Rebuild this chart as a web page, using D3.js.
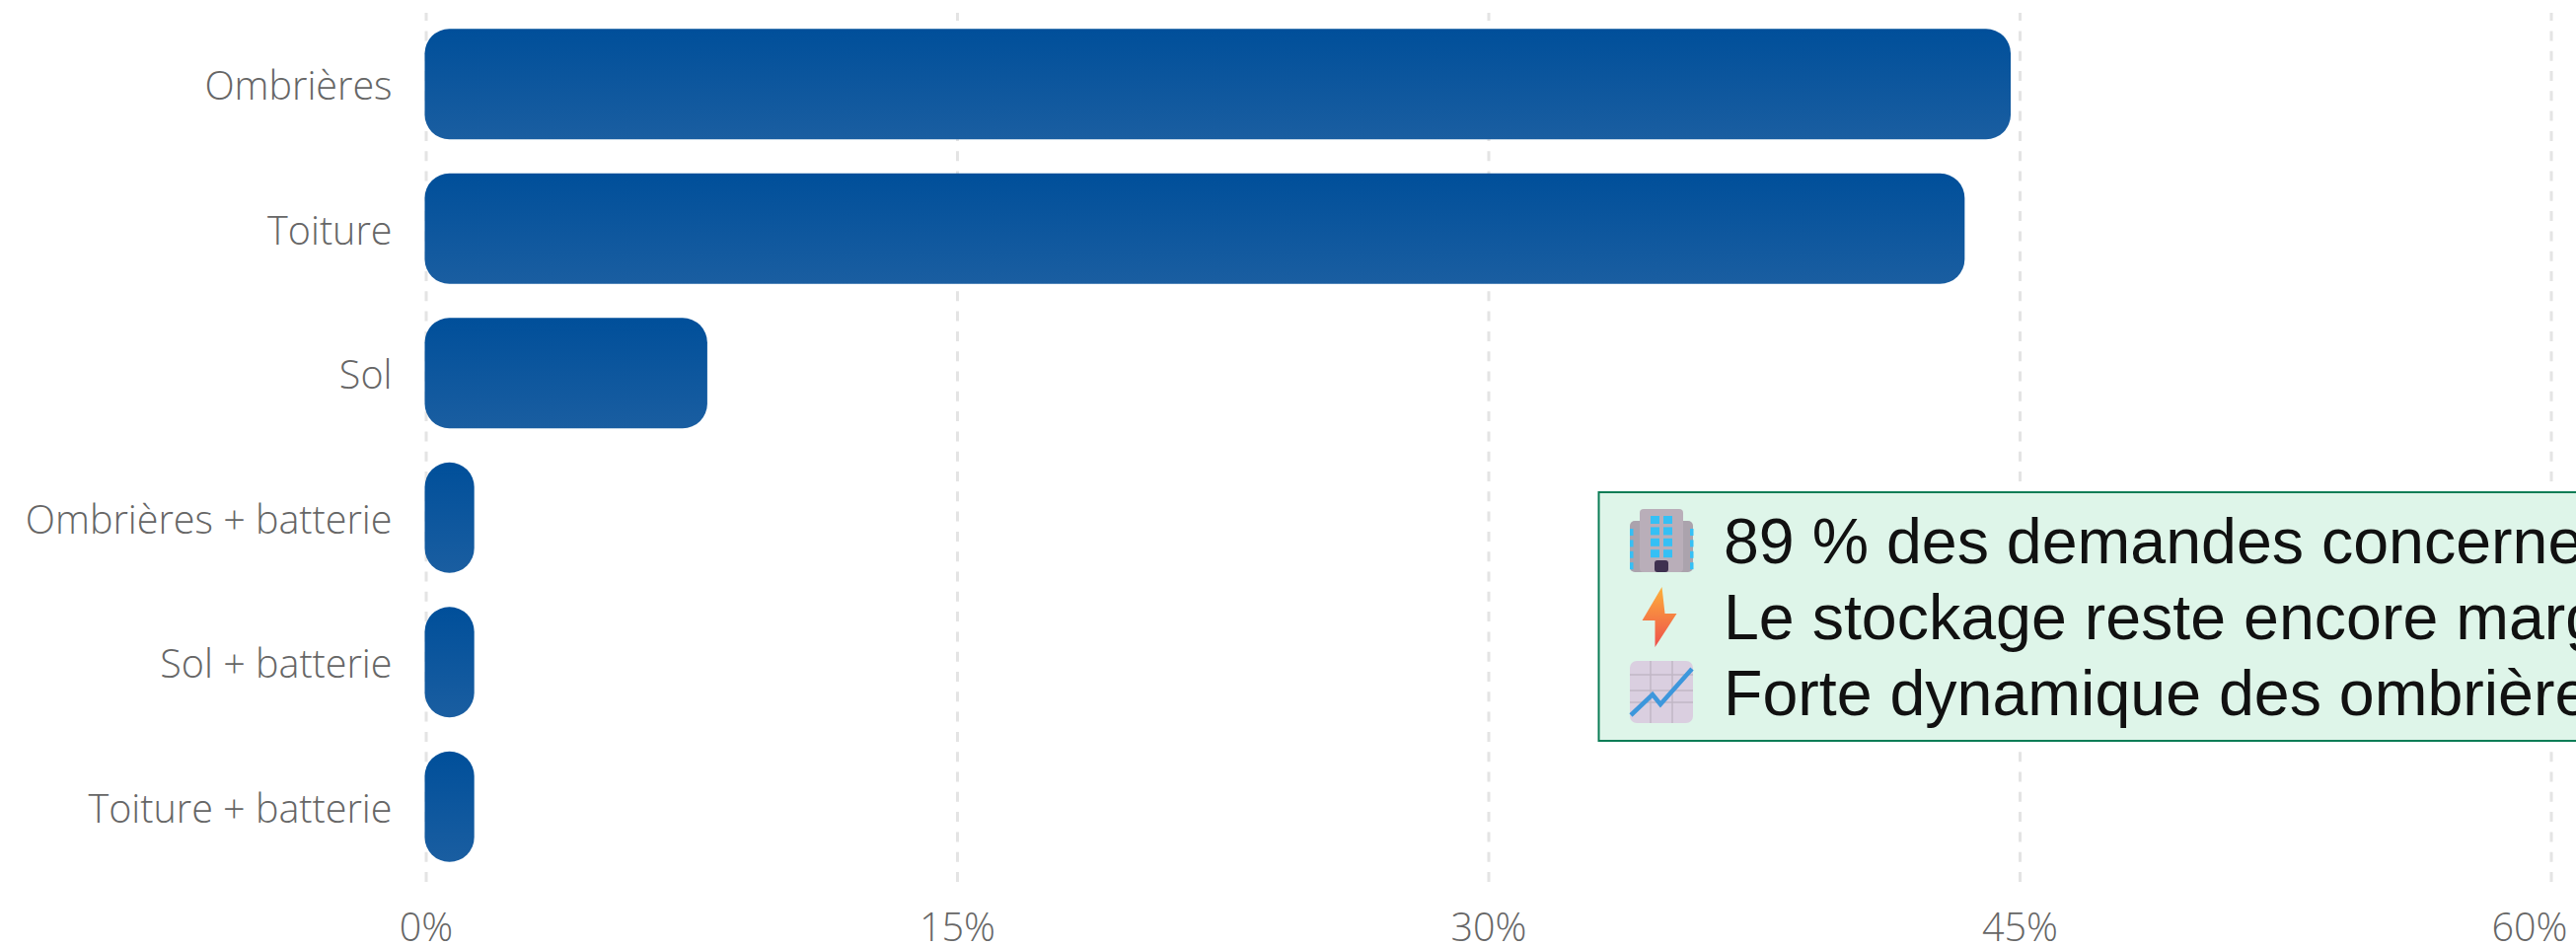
<!DOCTYPE html>
<html><head><meta charset="utf-8">
<script src="https://cdn.jsdelivr.net/npm/d3@7/dist/d3.min.js"></script>
<style>html,body{margin:0;padding:0;background:#fff;overflow:hidden}svg{display:block}</style>
</head><body><svg id="c" width="2611" height="959"></svg>
<script>
const categories = ["Ombrières","Toiture","Sol","Ombrières + batterie","Sol + batterie","Toiture + batterie"];
const shares = [44.75,43.45,7.95,1.37,1.37,1.37];
const xTicks = [0,15,30,45,60];
const notes = ["89 % des demandes concerne","Le stockage reste encore marg","Forte dynamique des ombrière"];

const svg = d3.select("#c");
const x = d3.scaleLinear().domain([0,60]).range([431.5,2585.5]);
const y = d3.scaleBand().domain(categories).range([12,891]).paddingInner(0.2355).paddingOuter(0.118);
const labelFont = "'Open Sans', Lato, sans-serif";

const defs = svg.append("defs");
const g = defs.append("linearGradient").attr("id","bar").attr("x1",0).attr("y1",0).attr("x2",0).attr("y2",1);
g.append("stop").attr("offset","0%").attr("stop-color","#004f9a");
g.append("stop").attr("offset","100%").attr("stop-color","#1a5ea1");

const xAxis = svg.append("g").attr("transform","translate(0,894)")
  .call(d3.axisBottom(x).tickValues(xTicks).tickFormat(d=>d+"%").tickSize(-881).tickPadding(32));
xAxis.select(".domain").remove();
xAxis.selectAll(".tick line").attr("stroke","#e4e4e4").attr("stroke-width",3).attr("stroke-dasharray","10 10.3");
xAxis.selectAll(".tick text").attr("font-family",labelFont).attr("font-weight",300).attr("font-size",39.5).attr("fill","#666");
xAxis.selectAll(".tick:last-of-type text").attr("dx",-22);

const yAxis = svg.append("g").attr("transform","translate(431.5,0)")
  .call(d3.axisLeft(y).tickSize(0).tickPadding(34));
yAxis.select(".domain").remove();
yAxis.selectAll(".tick text").attr("font-family",labelFont).attr("font-weight",300).attr("font-size",39.5).attr("fill","#666").attr("dy","0.4em");

svg.append("g").selectAll("rect").data(categories).join("rect")
  .attr("x",x(0)-1)
  .attr("y",d=>y(d))
  .attr("width",(d,i)=>x(shares[i])-x(0)+1)
  .attr("height",y.bandwidth())
  .attr("rx",25).attr("ry",25)
  .attr("fill","url(#bar)");

// annotation box (runs off the right edge of the picture, as in the reference)
const box = svg.append("g");
box.append("rect").attr("x",1620.5).attr("y",499).attr("width",1100).attr("height",252)
  .attr("fill","#def5e9").attr("stroke","#0b7d56").attr("stroke-width",2);
box.selectAll("text").data(notes).join("text")
  .attr("x",1747).attr("y",(d,i)=>571+i*77)
  .attr("font-family","'Liberation Sans', Arial, sans-serif").attr("font-size",64.5).attr("fill","#111")
  .text(d=>d);

// building icon
const b = svg.append("g").attr("transform","translate(1652,516)");
b.append("rect").attr("x",0).attr("y",12).attr("width",64).attr("height",52).attr("rx",5).attr("fill","#aba3ad");
b.append("rect").attr("x",10).attr("y",0).attr("width",44).attr("height",64).attr("rx",4).attr("fill","#b9aeb9");
[0,1,2,3].forEach(r=>{[0,1].forEach(c=>b.append("rect").attr("x",21+c*13).attr("y",7+r*11.4).attr("width",9).attr("height",8).attr("fill","#35c0f5"));
  [1,62].forEach(px=>b.append("rect").attr("x",px-1).attr("y",20+r*11.4).attr("width",3.5).attr("height",7).attr("fill","#35c0f5"));});
b.append("rect").attr("x",25).attr("y",52).attr("width",14).attr("height",12).attr("rx",3).attr("fill","#3f3150");

// lightning icon
const bg = defs.append("linearGradient").attr("id","bolt").attr("x1",0).attr("y1",0).attr("x2",0).attr("y2",1);
bg.append("stop").attr("offset","0%").attr("stop-color","#fdb03a");
bg.append("stop").attr("offset","100%").attr("stop-color","#ee4f4c");
svg.append("path").attr("transform","translate(1664.5,595)")
  .attr("d","M20 0 L0 34 L13 34 L13 61 L35 27 L23 27 Z").attr("fill","url(#bolt)");

// chart icon
const ci = svg.append("g").attr("transform","translate(1652,670)");
ci.append("rect").attr("width",64).attr("height",63).attr("rx",7).attr("fill","#dacfe0");
[21,43].forEach(v=>ci.append("line").attr("x1",v).attr("x2",v).attr("y1",0).attr("y2",63).attr("stroke","#c1b7c6").attr("stroke-width",1.5));
[14,30,42].forEach(v=>ci.append("line").attr("y1",v).attr("y2",v).attr("x1",0).attr("x2",64).attr("stroke","#c1b7c6").attr("stroke-width",1.5));
ci.append("path").attr("d","M1 55 L23 34 L31 44 L63 8").attr("fill","none").attr("stroke","#3d97dc").attr("stroke-width",4.5);
</script></body></html>
